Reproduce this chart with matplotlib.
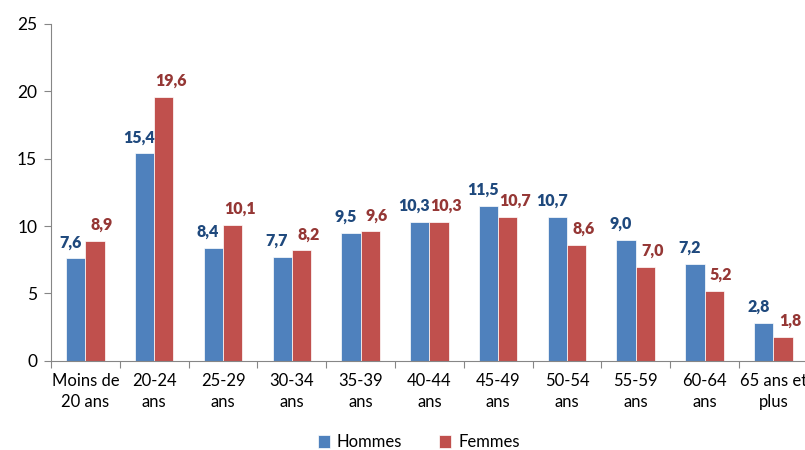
import numpy as np
import matplotlib
matplotlib.use("Agg")
import matplotlib.pyplot as plt

categories = ["Moins de\n20 ans", "20-24\nans", "25-29\nans", "30-34\nans", "35-39\nans",
              "40-44\nans", "45-49\nans", "50-54\nans", "55-59\nans", "60-64\nans",
              "65 ans et\nplus"]
hommes = [7.6, 15.4, 8.4, 7.7, 9.5, 10.3, 11.5, 10.7, 9.0, 7.2, 2.8]
femmes = [8.9, 19.6, 10.1, 8.2, 9.6, 10.3, 10.7, 8.6, 7.0, 5.2, 1.8]

plt.rcParams['font.family'] = ['Lato', 'DejaVu Sans']

BLUE = '#4F81BD'
RED = '#C0504D'
BLUE_TXT = '#1F497D'
RED_TXT = '#953735'

fig = plt.figure(figsize=(8.05, 4.5), dpi=100)
ax = fig.add_axes([0.0634, 0.198, 0.94, 0.749])

x = np.arange(len(categories))
w = 0.28
b1 = ax.bar(x - w / 2, hommes, w, color=BLUE, edgecolor='white', linewidth=0.5, label='Hommes')
b2 = ax.bar(x + w / 2, femmes, w, color=RED, edgecolor='white', linewidth=0.5, label='Femmes')

for xi, v in zip(x, hommes):
    ax.text(xi - w / 2 - 0.08, v + 0.6, f"{v:.1f}".replace('.', ','), ha='center', va='bottom',
            color=BLUE_TXT, fontsize=11.5, fontweight='heavy')
for xi, v in zip(x, femmes):
    ax.text(xi + w / 2 + 0.1, v + 0.6, f"{v:.1f}".replace('.', ','), ha='center', va='bottom',
            color=RED_TXT, fontsize=11.5, fontweight='heavy')

ax.set_xlim(-0.5, len(categories) - 0.5)
ax.set_ylim(0, 25)
ax.set_yticks(range(0, 26, 5))
ax.tick_params(axis='y', labelsize=12.5, length=5, color='#868686', direction='out', pad=5)

ax.set_xticks(np.arange(-0.5, len(categories), 1.0))
ax.set_xticklabels([])
ax.set_xticks(x, minor=True)
ax.set_xticklabels(categories, minor=True, fontsize=12, linespacing=1.35)
ax.tick_params(axis='x', which='major', length=5, color='#868686', direction='out')
ax.tick_params(axis='x', which='minor', length=0, pad=9)

for s in ['top', 'right']:
    ax.spines[s].set_visible(False)
for s in ['left', 'bottom']:
    ax.spines[s].set_color('#868686')

fig.legend(handles=[b1, b2], loc='center', bbox_to_anchor=(0.52, 0.017), ncol=2,
           frameon=False, fontsize=12, handlelength=0.75, handleheight=0.75,
           columnspacing=2.2, handletextpad=0.4)

fig.savefig("out.png", dpi=100)
